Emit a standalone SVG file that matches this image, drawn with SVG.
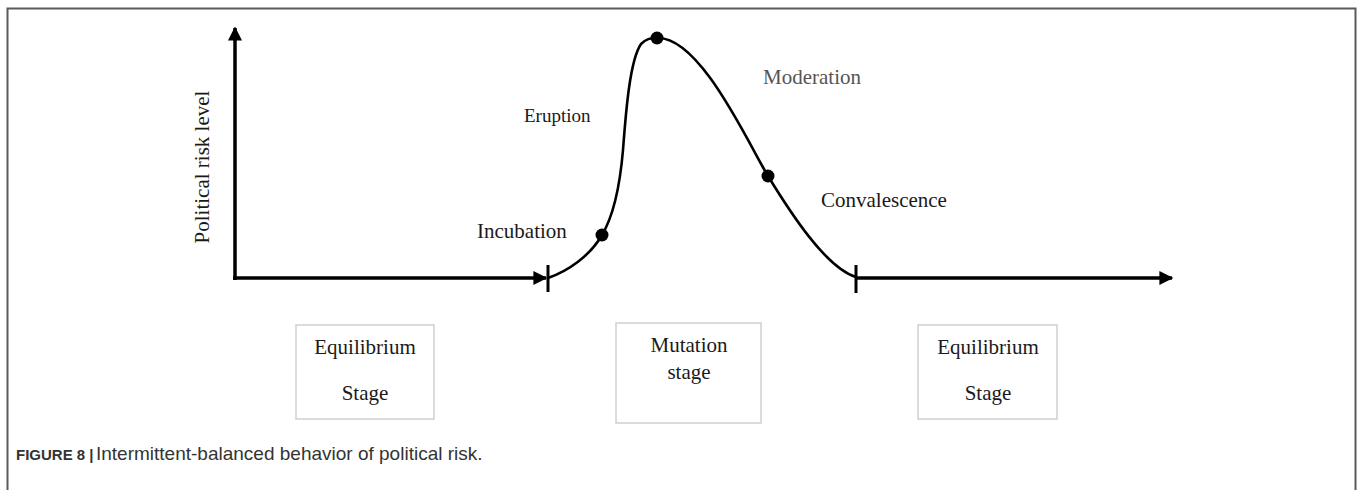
<svg xmlns="http://www.w3.org/2000/svg" width="1357" height="490" viewBox="0 0 1357 490">
<style>
.lbl{font-family:"Liberation Serif","Times New Roman",serif;font-size:21px;fill:#1a1a1a}
.box{fill:#fff;stroke:#cfcfcf;stroke-width:1.5}
.axis{stroke:#000;stroke-width:3.5;fill:none}
.tick{stroke:#000;stroke-width:3;fill:none}
.curve{stroke:#000;stroke-width:2.6;fill:none}
.dot{fill:#000}
.cap{font-family:"Liberation Sans",Arial,sans-serif;font-size:19px;fill:#333}
</style>
<defs>
<marker id="arr" viewBox="0 0 10 10" refX="9" refY="5" markerWidth="4.2" markerHeight="4" markerUnits="strokeWidth" orient="auto">
<path d="M0,0 L10,5 L0,10 z" fill="#000"/>
</marker>
</defs>
<rect width="1357" height="490" fill="#fff"/>
<path d="M7.5,490 V8.5 H1355.5 V490" fill="none" stroke="#5a5a5a" stroke-width="2"/>
<g id="connectors">
<line class="axis" x1="235" y1="280" x2="235" y2="28" marker-end="url(#arr)"/>
<line class="axis" x1="233" y1="278" x2="546" y2="278" marker-end="url(#arr)"/>
<line class="axis" x1="856" y1="278" x2="1172" y2="278" marker-end="url(#arr)"/>
<line class="tick" x1="548" y1="265" x2="548" y2="292"/>
<line class="tick" x1="856" y1="265" x2="856" y2="293"/>
<path class="curve" d="M548,278 C568,271 590,256 602,235 C614,215 620,185 623,150 C626,110 630,60 641,44 C646,39 650,38 657,38 C700,36 748,143 768,176 C790,212 826,268 856,277"/>
<circle class="dot" cx="602" cy="235" r="6.5"/>
<circle class="dot" cx="657" cy="38" r="6.5"/>
<circle class="dot" cx="768" cy="176" r="6.5"/>
</g>
<g id="ylabel"><text class="lbl" transform="translate(209,167) rotate(-90)" text-anchor="middle">Political risk level</text></g>
<g id="incubation"><text class="lbl" x="477" y="238">Incubation</text></g>
<g id="eruption"><text class="lbl" x="524" y="122" style="font-size:19px">Eruption</text></g>
<g id="moderation"><text class="lbl" x="763" y="84" style="fill:#555">Moderation</text></g>
<g id="convalescence"><text class="lbl" x="821" y="207">Convalescence</text></g>
<g id="equilibrium-left">
<rect class="box" x="296" y="325" width="138" height="94"/>
<text class="lbl" x="365" y="354" text-anchor="middle">Equilibrium</text>
<text class="lbl" x="365" y="400" text-anchor="middle">Stage</text>
</g>
<g id="mutation">
<rect class="box" x="616" y="323" width="145" height="100"/>
<text class="lbl" x="689" y="352" text-anchor="middle">Mutation</text>
<text class="lbl" x="689" y="379" text-anchor="middle">stage</text>
</g>
<g id="equilibrium-right">
<rect class="box" x="918" y="325" width="139" height="94"/>
<text class="lbl" x="988" y="354" text-anchor="middle">Equilibrium</text>
<text class="lbl" x="988" y="400" text-anchor="middle">Stage</text>
</g>
<g id="caption">
<text class="cap" x="16" y="460" font-weight="bold" fill="#222" style="font-size:15px">FIGURE 8 |</text>
<text class="cap" x="96" y="460">Intermittent-balanced behavior of political risk.</text>
</g>
</svg>
